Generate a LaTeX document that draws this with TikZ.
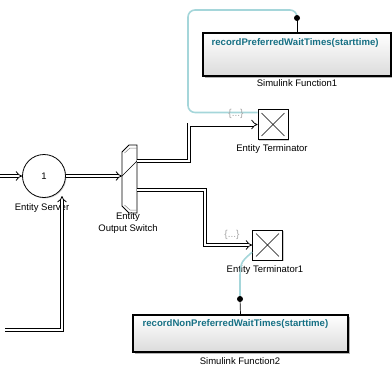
\documentclass[tikz,border=0pt]{standalone}
\usepackage{fontspec}
\setmainfont{Liberation Sans}
\usetikzlibrary{arrows.meta,shadows}
\definecolor{fnteal}{RGB}{22,112,132}
\definecolor{sigcyan}{RGB}{165,214,218}
\begin{document}
\begin{tikzpicture}[x=1pt,y=-1pt,
  lbl/.style={font=\fontsize{9.5}{12.5}\selectfont, inner sep=0pt},
  ent/.style={draw=black, line width=0.8pt, double=white, double distance=2.4pt},
  enttip/.style={-{Implies[scale=1.2]}},
  sig/.style={draw=sigcyan, line width=1.6pt},
  dotnode/.style={circle, fill=black, inner sep=0pt, minimum size=6pt},
  fnbox/.style={draw=black, line width=1.1pt, top color=white, bottom color=black!14,
    drop shadow={shadow xshift=1.5pt, shadow yshift=-1.5pt, fill=black!50, opacity=0.6}},
  termbox/.style={draw=black, line width=0.8pt, fill=white, minimum size=30pt, inner sep=0pt,
    drop shadow={shadow xshift=1pt, shadow yshift=-1pt, fill=black!40, opacity=0.5}},
  fntext/.style={font=\bfseries\fontsize{9.6}{11}\selectfont, text=fnteal, inner sep=0pt, anchor=west},
  bracelbl/.style={font=\fontsize{10}{11}\selectfont, text=black!35, inner sep=0pt},
  xline/.style={line width=0.5pt}
]
\useasboundingbox (0,0) rectangle (392,365);
\clip (0,0) rectangle (392,365);

% Entity Server
\node[circle, draw, line width=0.8pt, fill=white, minimum size=43pt, inner sep=0pt,
  font=\fontsize{9.5}{11}\selectfont,
  drop shadow={shadow xshift=1pt, shadow yshift=-1pt, fill=black!30, opacity=0.5}] (srv) at (44,176) {1};
\node[lbl] (srvl) at (42,208) {Entity Server};

% Entity Output Switch
\coordinate (swin) at (122,176);
\coordinate (swo1) at (137,161);
\coordinate (swo2) at (137,190);
\draw[line width=0.8pt, fill=white] (122,152) -- (129,145) -- (137,145) -- (137,213) -- (129,213) -- (122,206) -- cycle;
\draw[black!50, line width=0.5pt] (124.5,153) -- (130,148) -- (137,148);
\draw[black!50, line width=0.5pt] (124.5,205) -- (130,210) -- (137,210);
\draw[line width=0.6pt] (swin) -- (swo1);
\node[lbl, align=center] (swl) at (128,223) {Entity\\Output Switch};

% Entity Terminators
\node[termbox] (t1) at (273,124.5) {};
\draw[xline] ([shift={(4,4)}]t1.north west) -- ([shift={(-4,-4)}]t1.south east);
\draw[xline] ([shift={(-4,4)}]t1.north east) -- ([shift={(4,-4)}]t1.south west);
\node[lbl] (t1l) at (272,149) {Entity Terminator};

\node[termbox] (t2) at (267.5,245) {};
\draw[xline] ([shift={(4,4)}]t2.north west) -- ([shift={(-4,-4)}]t2.south east);
\draw[xline] ([shift={(-4,4)}]t2.north east) -- ([shift={(4,-4)}]t2.south west);
\node[lbl] (t2l) at (265,270) {Entity Terminator1};

% Simulink Functions
\node[fnbox, minimum width=188pt, minimum height=43pt] (f1) at (297,54.5) {};
\node[fntext] (f1t) at ([shift={(9,11)}]f1.north west) {recordPreferredWaitTimes(starttime)};
\node[lbl] (f1l) at (297,83) {Simulink Function1};

\node[fnbox, minimum width=215pt, minimum height=37pt] (f2) at (240.5,333.5) {};
\node[fntext] (f2t) at ([shift={(10,9.5)}]f2.north west) {recordNonPreferredWaitTimes(starttime)};
\node[lbl] (f2l) at (240,361) {Simulink Function2};

% signal (function call) lines
\coordinate (d1) at (297,18);
\coordinate (d2) at (240,299);
\draw[sig, rounded corners=7pt] (d1) |- (188,10) |- (t1.142);
\draw[sig] (t2.205) .. controls (241,262) .. (240,275) -- (d2);
\draw[line width=0.7pt] (d1) -- (f1.north);
\draw[line width=0.7pt] (d2) -- (f2.north);
\node[dotnode] (dot1) at (d1) {};
\node[dotnode] (dot2) at (d2) {};

\node[bracelbl] (b1) at (236,114) {\{...\}};
\node[bracelbl] (b2) at (232,235) {\{...\}};

% entity connections
\coordinate (inL) at (0,176);
\coordinate (lpL) at (5,330);
\coordinate (srvb) at (62,196);
\draw[ent, enttip] (inL) -- (srv.west);
\draw[ent, enttip] (srv.east) -- (swin);
\draw[ent, enttip] (swo1) -- ++(52,0) |- (t1.west);
\draw[ent, enttip] (swo2) -- ++(68,0) |- (t2.west);
\draw[ent, enttip] (lpL) -| (srvb);
\end{tikzpicture}
\end{document}
